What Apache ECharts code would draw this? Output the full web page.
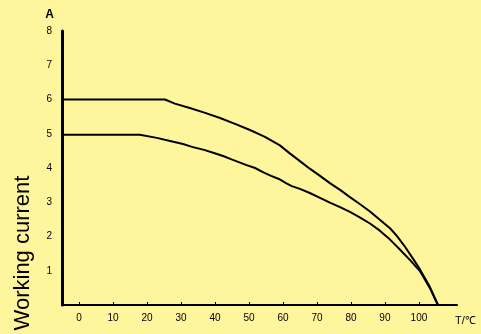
<!DOCTYPE html>
<html>
<head>
<meta charset="utf-8">
<script src="https://cdn.jsdelivr.net/npm/echarts@6/dist/echarts.min.js"></script>
<style>
html,body{margin:0;padding:0;background:#fff59d;}
#c{width:481px;height:334px;}
</style>
</head>
<body>
<div id="c"></div>
<script>
// x tick labels (temperature) and y tick values
var xTicks = [0, 10, 20, 30, 40, 50, 60, 70, 80, 90, 100];
var yTicks = [1, 2, 3, 4, 5, 6, 7, 8];

// upper curve [x, current]
var curveUpperX = [-5, 25.3, 28.2, 32.6, 37.1, 41.5, 45.9, 50.3, 54.7, 59.1, 62.1, 65.0, 67.9, 70.9, 73.8, 76.8, 79.7, 82.6, 85.6, 88.5, 91.5, 93.5, 95.9, 98.2, 100.3, 103.2, 105.6];
var curveUpperY = [6.0, 6.0, 5.88, 5.75, 5.61, 5.46, 5.29, 5.11, 4.91, 4.66, 4.42, 4.20, 3.98, 3.77, 3.56, 3.36, 3.15, 2.95, 2.73, 2.49, 2.24, 2.02, 1.70, 1.36, 1.04, 0.53, 0];

// lower curve [x, current]
var curveLowerX = [-5, 17.9, 22.9, 26.8, 30.6, 33.5, 36.8, 39.7, 42.4, 44.7, 46.8, 49.1, 51.8, 54.1, 56.5, 58.8, 60.9, 62.6, 65.0, 67.9, 70.9, 73.8, 76.8, 79.7, 82.6, 85.6, 88.5, 91.5, 94.4, 97.4, 100.3, 103.2, 105.6];
var curveLowerY = [4.97, 4.97, 4.88, 4.79, 4.70, 4.61, 4.53, 4.44, 4.35, 4.26, 4.18, 4.09, 4.00, 3.88, 3.77, 3.68, 3.56, 3.47, 3.39, 3.27, 3.13, 2.99, 2.86, 2.72, 2.56, 2.38, 2.17, 1.91, 1.62, 1.31, 0.99, 0.50, 0];

function zip(xs, ys){ return xs.map(function(x,i){ return [x, ys[i]]; }); }

var FONT = '"Liberation Sans", Arial, sans-serif';
var chart = echarts.init(document.getElementById('c'), null, {renderer:'canvas'});
chart.setOption({
  animation: false,
  backgroundColor: '#fff59d',
  grid: {left: 62, right: 24, top: 31, bottom: 29, containLabel: false},
  xAxis: {
    type: 'value', min: -5, max: 111.2,
    name: 'T/℃', nameLocation: 'end', nameGap: -2,
    nameTextStyle: {color:'#000', fontSize: 11, fontFamily: FONT, verticalAlign:'top', align:'left', padding:[10,0,0,0]},
    axisLine: {show: true, onZero: false, lineStyle: {color: '#000', width: 2}},
    axisTick: {show: true, customValues: xTicks, length: 3, inside: true, lineStyle:{color:'#000'}},
    axisLabel: {customValues: xTicks, color: '#000', fontSize: 10, fontFamily: FONT, margin: 8},
    splitLine: {show: false}
  },
  yAxis: {
    type: 'value', min: 0, max: 8, interval: 1,
    name: 'A', nameLocation: 'end', nameGap: 10,
    nameTextStyle: {color:'#000', fontSize: 12, fontWeight:'bold', fontFamily: FONT, align:'right', padding:[0,8,0,0]},
    axisLine: {show: true, onZero: false, lineStyle: {color: '#000', width: 3}},
    axisTick: {show: false},
    axisLabel: {color: '#000', fontSize: 10, fontFamily: FONT, margin: 10, showMinLabel: false,
      formatter: function(v){ return yTicks.indexOf(v) >= 0 ? String(v) : ''; }},
    splitLine: {show: false}
  },
  graphic: [{
    type: 'text', x: 23, y: 253, rotation: Math.PI / 2,
    style: {text: 'Working current', font: '22px "Liberation Sans", Arial, sans-serif', fill: '#000', align: 'center', verticalAlign: 'middle'}
  }],
  series: [
    {type: 'line', data: zip(curveUpperX, curveUpperY), smooth: false, showSymbol: false, lineStyle: {color: '#000', width: 2}},
    {type: 'line', data: zip(curveLowerX, curveLowerY), smooth: false, showSymbol: false, lineStyle: {color: '#000', width: 2}}
  ]
});
</script>
</body>
</html>
